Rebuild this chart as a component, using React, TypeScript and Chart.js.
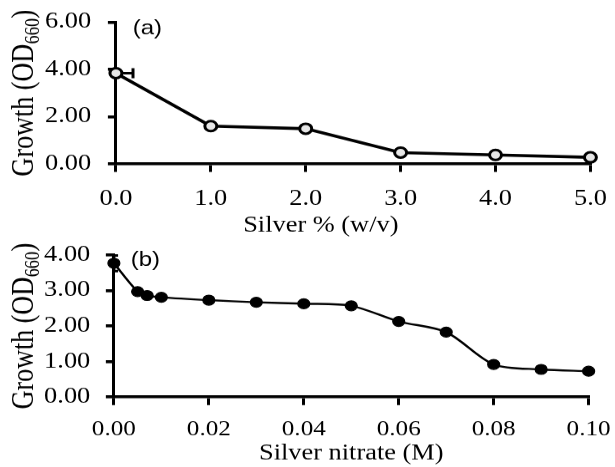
import React, { useEffect, useRef } from "react";
import { Chart, registerables } from "chart.js";

Chart.register(...registerables);

// ---------- data: panel (a) ----------
const silverPct = [0, 1, 2, 3, 4, 5];
const growthA = [3.84, 1.6, 1.49, 0.48, 0.38, 0.28];
const growthAYErr = [0.05, 0.08, 0.12, 0.15, 0.08, 0.05];
const growthAXErr = [0.18, 0, 0, 0, 0, 0];
const ticksAX = [0, 1, 2, 3, 4, 5];
const ticksAY = [0, 2, 4, 6];

// ---------- data: panel (b) ----------
const silverNitrate = [0, 0.005, 0.007, 0.01, 0.02, 0.03, 0.04, 0.05, 0.06, 0.07, 0.08, 0.09, 0.1];
const growthB = [3.77, 2.97, 2.86, 2.81, 2.73, 2.67, 2.63, 2.57, 2.13, 1.83, 0.92, 0.78, 0.73];
const growthBYErr = [0.22, 0.06, 0.05, 0.03, 0.03, 0.03, 0.03, 0.03, 0.04, 0.04, 0.04, 0.05, 0.03];
const growthBXErr = [0, 0, 0, 0, 0, 0, 0, 0, 0, 0, 0, 0, 0];
const ticksBX = [0, 0.02, 0.04, 0.06, 0.08, 0.1];
const ticksBY = [0, 1, 2, 3, 4];

const xTitleA = "Silver % (w/v)";
const xTitleB = "Silver nitrate (M)";
const yTitleMain = "Growth (OD";
const yTitleSub = "660";
const yTitleEnd = ")";

const SERIF = '"Liberation Serif", "Times New Roman", serif';
const SANS = '"Liberation Sans", Arial, sans-serif';

// horizontal stretch of the reference picture
const CSS_W = 615;
const INNER_W = 513;

function errPlugin(xs: number[], ys: number[], yErr: number[], xErr: number[]) {
  return {
    id: "errbars",
    beforeDatasetsDraw(chart: any) {
      const { ctx, scales, chartArea } = chart;
      const x = scales.x;
      const y = scales.y;
      ctx.save();
      ctx.beginPath();
      ctx.rect(chartArea.left, chartArea.top - 20, chartArea.right - chartArea.left + 20, chartArea.bottom - chartArea.top + 20);
      ctx.clip();
      ctx.strokeStyle = "#000";
      ctx.lineWidth = 2.5;
      xs.forEach((xv, i) => {
        const px = x.getPixelForValue(xv);
        const py = y.getPixelForValue(ys[i]);
        if (yErr[i]) {
          const t = y.getPixelForValue(ys[i] + yErr[i]);
          const b = y.getPixelForValue(ys[i] - yErr[i]);
          ctx.beginPath();
          ctx.moveTo(px, t);
          ctx.lineTo(px, b);
          ctx.moveTo(px - 3.5, t);
          ctx.lineTo(px + 3.5, t);
          ctx.moveTo(px - 3.5, b);
          ctx.lineTo(px + 3.5, b);
          ctx.stroke();
        }
        if (xErr[i]) {
          const r = x.getPixelForValue(xv + xErr[i]);
          const l = x.getPixelForValue(xv - xErr[i]);
          ctx.beginPath();
          ctx.moveTo(l, py);
          ctx.lineTo(r, py);
          ctx.moveTo(r, py - 5);
          ctx.lineTo(r, py + 5);
          ctx.moveTo(l, py - 5);
          ctx.lineTo(l, py + 5);
          ctx.stroke();
        }
      });
      ctx.restore();
    },
  };
}

function textPlugin(o: {
  letter: string;
  letterDy: number;
  xTitle: string;
  xFont: number;
  xShift: number;
  xBaseline: number;
  yBaselineX: number;
}) {
  return {
    id: "texts",
    afterDraw(chart: any) {
      const { ctx, chartArea: ca } = chart;
      ctx.save();
      ctx.fillStyle = "#000";
      ctx.textBaseline = "alphabetic";
      ctx.textAlign = "center";
      ctx.font = `${o.xFont}px ${SERIF}`;
      ctx.fillText(o.xTitle, (ca.left + ca.right) / 2 + o.xShift, o.xBaseline);

      // rotated y title with subscript
      ctx.translate(o.yBaselineX, (ca.top + ca.bottom) / 2);
      ctx.rotate(-Math.PI / 2);
      ctx.textAlign = "left";
      const big = `26px ${SERIF}`;
      const small = `17px ${SERIF}`;
      ctx.font = big;
      const w1 = ctx.measureText(yTitleMain).width;
      const w3 = ctx.measureText(yTitleEnd).width;
      ctx.font = small;
      const w2 = ctx.measureText(yTitleSub).width;
      let cx = -(w1 + w2 + w3) / 2;
      ctx.font = big;
      ctx.fillText(yTitleMain, cx, 0);
      cx += w1;
      ctx.font = small;
      ctx.fillText(yTitleSub, cx, 5);
      cx += w2;
      ctx.font = big;
      ctx.fillText(yTitleEnd, cx, 0);
      ctx.restore();

      ctx.save();
      ctx.fillStyle = "#000";
      ctx.font = `20px ${SANS}`;
      ctx.textAlign = "left";
      ctx.textBaseline = "middle";
      ctx.fillText(o.letter, ca.left + 14, ca.top + o.letterDy);
      ctx.restore();
    },
  };
}

function makeConfig(p: {
  xs: number[];
  ys: number[];
  yErr: number[];
  xErr: number[];
  ticksX: number[];
  ticksY: number[];
  xDigits: number;
  yDigits: number;
  xTickFont: number;
  yTickFont: number;
  xPad: number;
  yPad: number;
  canvasH: number;
  left: number;
  right: number;
  top: number;
  bottom: number;
  filled: boolean;
  lineWidth: number;
  tension: number;
  text: any;
}) {
  const data = p.xs.map((x, i) => ({ x, y: p.ys[i] }));
  return {
    type: "line" as const,
    data: {
      datasets: [
        {
          data,
          borderColor: "#000",
          borderWidth: p.lineWidth,
          tension: p.tension,
          pointRadius: 5,
          pointHoverRadius: 5,
          pointBorderWidth: p.filled ? 1 : 2.5,
          pointBorderColor: "#000",
          pointBackgroundColor: p.filled ? "#000" : "#e6e6e6",
          clip: false as any,
        },
      ],
    },
    options: {
      animation: false as const,
      responsive: false,
      devicePixelRatio: CSS_W / INNER_W,
      events: [],
      layout: {
        padding: { left: 0, top: p.top, right: INNER_W - p.right, bottom: 0 },
      },
      plugins: { legend: { display: false }, tooltip: { enabled: false } },
      scales: {
        x: {
          type: "linear" as const,
          min: p.ticksX[0],
          max: p.ticksX[p.ticksX.length - 1],
          afterBuildTicks: (s: any) => {
            s.ticks = p.ticksX.map((v) => ({ value: v }));
          },
          afterFit: (s: any) => {
            s.height = p.canvasH - p.bottom;
            s.paddingLeft = 0;
            s.paddingRight = 0;
          },
          border: { display: true, color: "#000", width: 3 },
          grid: { display: true, drawOnChartArea: false, drawTicks: true, tickLength: 8, color: "#000", lineWidth: 2.5 },
          ticks: {
            autoSkip: false,
            maxRotation: 0,
            color: "#000",
            padding: p.xPad,
            font: { family: SERIF, size: p.xTickFont },
            callback: (v: any) => Number(v).toFixed(p.xDigits),
          },
        },
        y: {
          type: "linear" as const,
          min: p.ticksY[0],
          max: p.ticksY[p.ticksY.length - 1],
          afterBuildTicks: (s: any) => {
            s.ticks = p.ticksY.map((v) => ({ value: v }));
          },
          afterFit: (s: any) => {
            s.width = p.left;
            s.paddingTop = 0;
            s.paddingBottom = 0;
          },
          border: { display: true, color: "#000", width: 2.5 },
          grid: { display: true, drawOnChartArea: false, drawTicks: true, tickLength: 6.7, color: "#000", lineWidth: 3 },
          ticks: {
            color: "#000",
            padding: p.yPad,
            font: { family: SERIF, size: p.yTickFont },
            callback: (v: any) => Number(v).toFixed(p.yDigits),
          },
        },
      },
    },
    plugins: [errPlugin(p.xs, p.ys, p.yErr, p.xErr), textPlugin(p.text)],
  };
}

const H_A = 240;
const H_B = 227;

export default function App() {
  const refA = useRef<HTMLCanvasElement | null>(null);
  const refB = useRef<HTMLCanvasElement | null>(null);

  useEffect(() => {
    if (!refA.current || !refB.current) return;
    const a = new Chart(
      refA.current,
      makeConfig({
        xs: silverPct,
        ys: growthA,
        yErr: growthAYErr,
        xErr: growthAXErr,
        ticksX: ticksAX,
        ticksY: ticksAY,
        xDigits: 1,
        yDigits: 2,
        xTickFont: 22,
        yTickFont: 22,
        xPad: 14,
        yPad: 14,
        canvasH: H_A,
        left: 96.7,
        right: 492.5,
        top: 22,
        bottom: 163.5,
        filled: false,
        lineWidth: 3,
        tension: 0,
        text: { letter: "(a)", letterDy: 7, xTitle: xTitleA, xFont: 22, xShift: -27, xBaseline: 231, yBaselineX: 27.5 },
      }) as any
    );
    const b = new Chart(
      refB.current,
      makeConfig({
        xs: silverNitrate,
        ys: growthB,
        yErr: growthBYErr,
        xErr: growthBXErr,
        ticksX: ticksBX,
        ticksY: ticksBY,
        xDigits: 2,
        yDigits: 2,
        xTickFont: 21,
        yTickFont: 22,
        xPad: 12,
        yPad: 13,
        canvasH: H_B,
        left: 95,
        right: 491,
        top: 15,
        bottom: 157,
        filled: true,
        lineWidth: 2,
        tension: 0.3,
        text: { letter: "(b)", letterDy: 5, xTitle: xTitleB, xFont: 22, xShift: 0, xBaseline: 219.5, yBaselineX: 27.5 },
      }) as any
    );
    return () => {
      a.destroy();
      b.destroy();
    };
  }, []);

  return (
    <div style={{ position: "fixed", left: 0, top: 0, width: CSS_W, height: 467, background: "#fff" }}>
      <canvas
        ref={refA}
        width={INNER_W}
        height={H_A}
        style={{ position: "absolute", left: 0, top: 0, width: `${CSS_W}px`, height: `${H_A}px` }}
      />
      <canvas
        ref={refB}
        width={INNER_W}
        height={H_B}
        style={{ position: "absolute", left: 0, top: H_A, width: `${CSS_W}px`, height: `${H_B}px` }}
      />
    </div>
  );
}
